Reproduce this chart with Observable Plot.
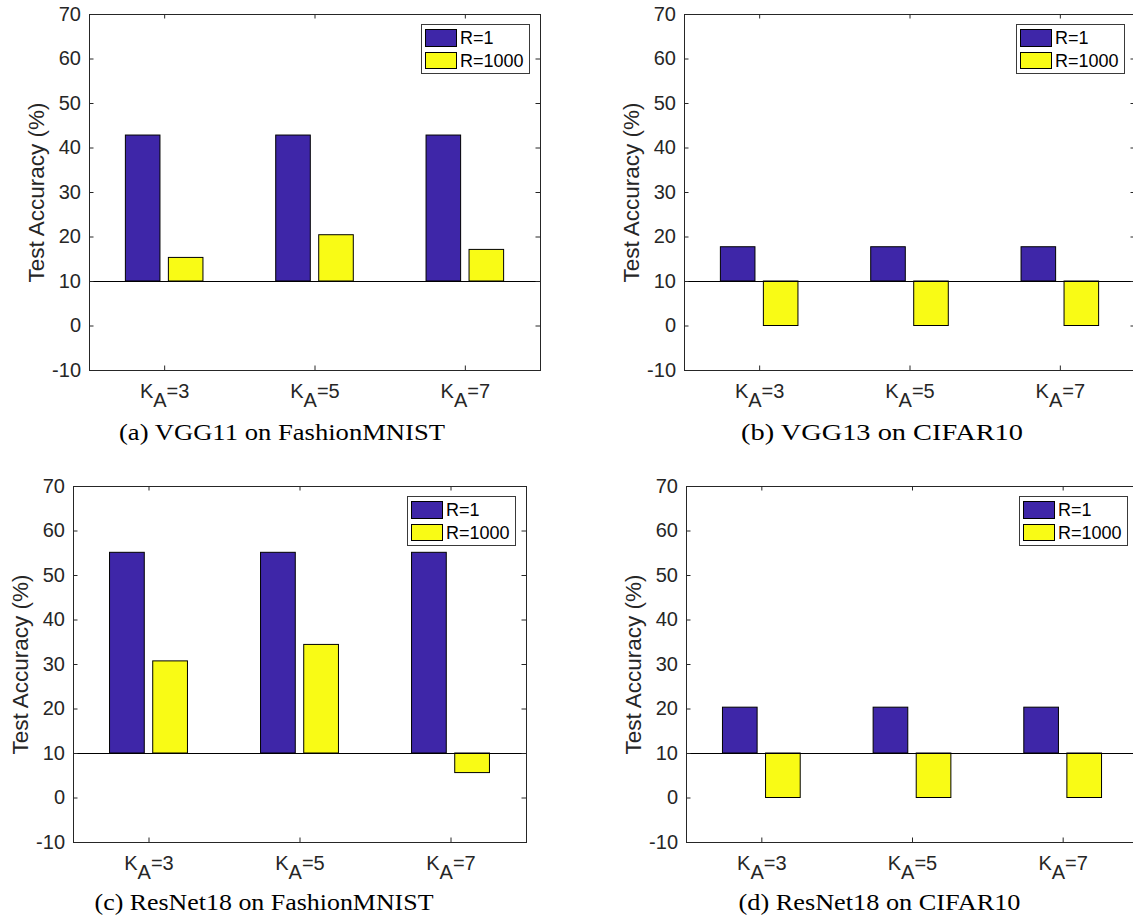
<!DOCTYPE html>
<html>
<head>
<meta charset="utf-8">
<script src="https://cdn.jsdelivr.net/npm/d3@7"></script>
<script src="https://cdn.jsdelivr.net/npm/@observablehq/plot@0.6"></script>
<style>
  html, body { margin: 0; padding: 0; background: #fff; overflow: hidden; }
  #page { position: relative; width: 1133px; height: 921px; overflow: hidden; background: #fff; }
  .panel { position: absolute; }
  .legend { position: absolute; box-sizing: border-box; border: 1px solid #3a3a3a; background: #fff;
            font-family: "Liberation Sans", Arial, sans-serif; font-size: 18px; color: #000; }
  .legend .sw { position: absolute; box-sizing: border-box; border: 1px solid #000; }
  .legend .lb { position: absolute; line-height: 18px; white-space: nowrap; }
  #captions { position: absolute; left: 0; top: 0; pointer-events: none; }
</style>
</head>
<body>
<div id="page"></div>
<script>
// ---------- data ----------
const categories = ["K_A=3", "K_A=5", "K_A=7"];
const seriesNames = ["R=1", "R=1000"];
const yTicks = [-10, 0, 10, 20, 30, 40, 50, 60, 70];
const baselineValue = 10;
const yLabel = "Test Accuracy (%)";

const vgg11FashionR1    = [42.8, 42.8, 42.8];
const vgg11FashionR1000 = [15.3, 20.4, 17.1];
const vgg13CifarR1      = [17.7, 17.7, 17.7];
const vgg13CifarR1000   = [0, 0, 0];
const resnetFashionR1    = [55.1, 55.1, 55.1];
const resnetFashionR1000 = [30.7, 34.4, 5.6];
const resnetCifarR1      = [20.3, 20.3, 20.3];
const resnetCifarR1000   = [0, 0, 0];

const captions = [
  "(a) VGG11 on FashionMNIST",
  "(b) VGG13 on CIFAR10",
  "(c) ResNet18 on FashionMNIST",
  "(d) ResNet18 on CIFAR10"
];

const panelSeries = [
  [vgg11FashionR1, vgg11FashionR1000],
  [vgg13CifarR1, vgg13CifarR1000],
  [resnetFashionR1, resnetFashionR1000],
  [resnetCifarR1, resnetCifarR1000]
];

// ---------- styling / layout ----------
const colors = ["#3E26A8", "#F9FB15"];
const axisColor = "#262626";
const barOffsets = [-0.143, 0.143];
const barWidth = 0.23;
const H = 430, MT = 14, MB = 60;
const plotH = H - MT - MB;
const tickLen = 4.5;
const tickFont = 20;

const layout = [
  {left: 0,   top: 0,   width: 563, ml: 89,  mr: 23},
  {left: 570, top: 0,   width: 570, ml: 114, mr: 5},
  {left: 0,   top: 472, width: 563, ml: 73,  mr: 37},
  {left: 570, top: 472, width: 570, ml: 116, mr: 2}
];
const captionPos = [
  {x: 282,   y: 440, w: 326},
  {x: 882,   y: 440, w: 282},
  {x: 264,   y: 910, w: 339},
  {x: 879.5, y: 910, w: 282}
];

const page = document.getElementById("page");
const xTicks = categories.map((_, i) => i + 1);

function addSubscripts(svg) {
  svg.querySelectorAll('[aria-label="x-axis tick label"] text').forEach(t => {
    const s = t.textContent;
    const m = s.match(/^(.*)_(\w)(.*)$/);
    if (!m) return;
    t.textContent = "";
    const ns = "http://www.w3.org/2000/svg";
    const a = document.createElementNS(ns, "tspan"); a.textContent = m[1];
    const b = document.createElementNS(ns, "tspan"); b.textContent = m[2];
    b.setAttribute("dy", "9.4");
    const c = document.createElementNS(ns, "tspan"); c.textContent = m[3];
    c.setAttribute("dy", "-9.4");
    t.append(a, b, c);
  });
}

layout.forEach((L, p) => {
  const series = panelSeries[p];
  const rows = categories.flatMap((cat, i) =>
    series.map((vals, s) => ({pos: i + 1, s, name: seriesNames[s], value: vals[i]})));
  const plotW = L.width - L.ml - L.mr;

  const chart = Plot.plot({
    width: L.width, height: H,
    marginLeft: L.ml, marginRight: L.mr, marginTop: MT, marginBottom: MB,
    x: {domain: [0.5, categories.length + 0.5]},
    y: {domain: [yTicks[0], yTicks[yTicks.length - 1]]},
    color: {domain: seriesNames, range: colors},
    style: {fontFamily: '"Liberation Sans", Arial, sans-serif', fontSize: tickFont + "px",
            color: axisColor, background: "transparent", maxWidth: "none", overflow: "visible"},
    marks: [
      Plot.rect(rows, {
        x1: d => d.pos + barOffsets[d.s] - barWidth / 2,
        x2: d => d.pos + barOffsets[d.s] + barWidth / 2,
        y1: baselineValue, y2: "value",
        fill: "name", stroke: "#000", strokeWidth: 1
      }),
      Plot.ruleY([baselineValue], {stroke: "#000", strokeWidth: 1}),
      Plot.frame({stroke: axisColor, strokeWidth: 1}),
      Plot.tickY(yTicks, {y: d => d, insetRight: plotW - tickLen, stroke: axisColor}),
      Plot.tickY(yTicks, {y: d => d, insetLeft: plotW - tickLen, stroke: axisColor}),
      Plot.tickX(xTicks, {x: d => d, insetTop: plotH - tickLen, stroke: axisColor}),
      Plot.tickX(xTicks, {x: d => d, insetBottom: plotH - tickLen, stroke: axisColor}),
      Plot.axisY({ticks: yTicks, tickSize: 0, tickPadding: 8.5, tickFormat: d => String(d),
                  fontSize: tickFont, label: null}),
      Plot.axisX({ticks: xTicks, tickSize: 0, tickPadding: 13, tickFormat: i => categories[i - 1],
                  fontSize: tickFont, label: null}),
      Plot.text([yLabel], {frameAnchor: "left", textAnchor: "middle", rotate: -90, dx: -52.5,
                           text: d => d, fontSize: 22.5, fill: axisColor})
    ]
  });
  addSubscripts(chart);

  const wrap = document.createElement("div");
  wrap.className = "panel";
  wrap.style.left = L.left + "px";
  wrap.style.top = L.top + "px";
  wrap.appendChild(chart);
  page.appendChild(wrap);

  // legend (top-right inside the axes box)
  const lg = document.createElement("div");
  lg.className = "legend";
  const lw = 109, lh = 50;
  lg.style.width = lw + "px";
  lg.style.height = lh + "px";
  lg.style.left = (L.left + L.width - L.mr - 10 - lw) + "px";
  lg.style.top = (L.top + MT + 10) + "px";
  seriesNames.forEach((name, s) => {
    const sw = document.createElement("div");
    sw.className = "sw";
    sw.style.left = "3px";
    sw.style.top = (4 + s * 22.7) + "px";
    sw.style.width = "31.7px";
    sw.style.height = "17.7px";
    sw.style.background = colors[s];
    const lb = document.createElement("div");
    lb.className = "lb";
    lb.style.left = "38px";
    lb.style.top = (3.9 + s * 22.7) + "px";
    lb.textContent = name;
    lg.append(sw, lb);
  });
  page.appendChild(lg);
});

// captions
const ns = "http://www.w3.org/2000/svg";
const cap = document.createElementNS(ns, "svg");
cap.setAttribute("id", "captions");
cap.setAttribute("width", 1133);
cap.setAttribute("height", 921);
captions.forEach((txt, i) => {
  const t = document.createElementNS(ns, "text");
  t.setAttribute("x", captionPos[i].x);
  t.setAttribute("y", captionPos[i].y);
  t.setAttribute("text-anchor", "middle");
  t.setAttribute("font-family", '"Liberation Serif", "Times New Roman", serif');
  t.setAttribute("font-size", "22.5");
  t.setAttribute("fill", "#000");
  t.setAttribute("textLength", captionPos[i].w);
  t.setAttribute("lengthAdjust", "spacingAndGlyphs");
  t.textContent = txt;
  cap.appendChild(t);
});
page.appendChild(cap);
</script>
</body>
</html>
